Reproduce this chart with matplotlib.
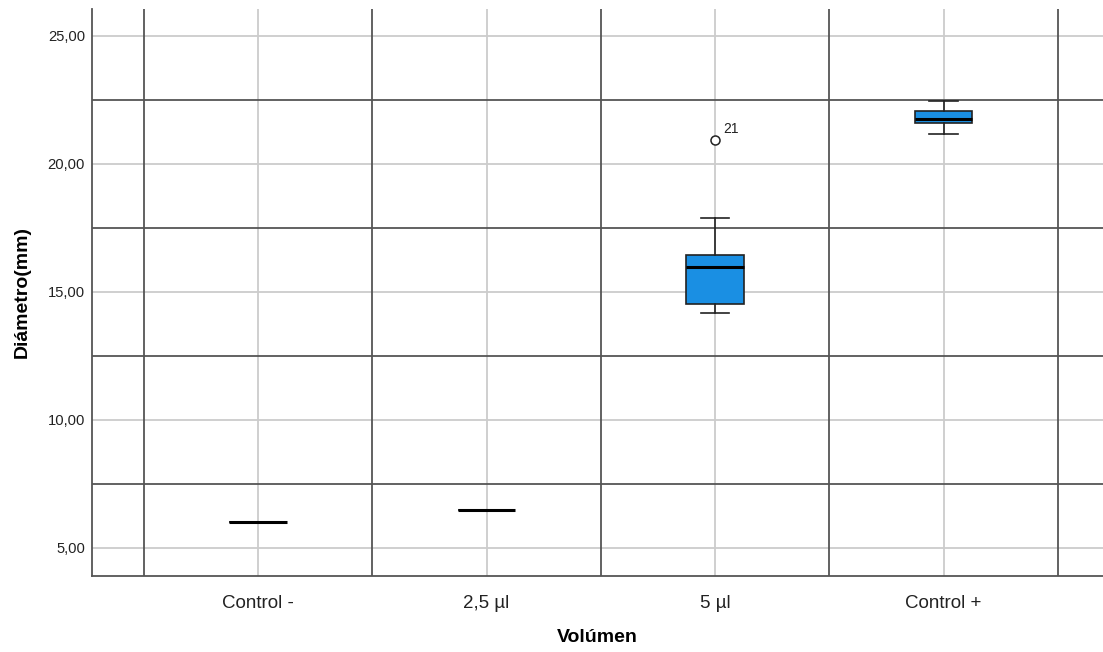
import matplotlib
matplotlib.use("Agg")
import matplotlib.pyplot as plt
import numpy as np

plt.rcParams["font.family"] = ["Liberation Sans", "DejaVu Sans"]

# data
categories = ["Control -", "2,5 µl", "5 µl", "Control +"]
whisker_low = [6.0, 6.5, 14.18, 21.16]
q1 = [6.0, 6.5, 14.53, 21.59]
medians = [6.0, 6.5, 15.99, 21.76]
q3 = [6.0, 6.5, 16.45, 22.07]
whisker_high = [6.0, 6.5, 17.89, 22.46]
outliers = [[], [], [20.94], []]
outlier_ids = [[], [], ["21"], []]

y_ticks = [5, 10, 15, 20, 25]
y_minor = [7.5, 12.5, 17.5, 22.5]

box_color = "#1a8fe3"

fig = plt.figure(figsize=(11.03, 6.52), dpi=100)
ax = fig.add_axes([92 / 1103, 76 / 652, 1 - 92 / 1103, 567 / 652])

pos = np.arange(len(categories))
stats = []
for i, name in enumerate(categories):
    stats.append({
        "label": name,
        "whislo": whisker_low[i],
        "q1": q1[i],
        "med": medians[i],
        "q3": q3[i],
        "whishi": whisker_high[i],
        "fliers": outliers[i],
    })

# grid: light lines at ticks and category centers, dark lines in between
for y in y_ticks:
    ax.axhline(y, color="#cccccc", lw=1.3, zorder=0)
for x in pos:
    ax.axvline(x, color="#cccccc", lw=1.3, zorder=0)
for y in y_minor:
    ax.axhline(y, color="#555555", lw=1.3, zorder=1)
for x in np.arange(len(categories) + 1) - 0.5:
    ax.axvline(x, color="#555555", lw=1.3, zorder=1)

ax.bxp(
    stats, positions=pos, widths=0.25, patch_artist=True,
    boxprops=dict(facecolor=box_color, edgecolor="#222222", lw=1.2),
    medianprops=dict(color="black", lw=2.2),
    whiskerprops=dict(color="#222222", lw=1.2),
    capprops=dict(color="#222222", lw=1.2),
    capwidths=0.125,
    flierprops=dict(marker="o", markerfacecolor="white", markeredgecolor="#222222",
                    markersize=6.5, markeredgewidth=1.1),
    zorder=3,
)

for i, (vals, ids) in enumerate(zip(outliers, outlier_ids)):
    for v, t in zip(vals, ids):
        ax.annotate(t, (pos[i], v), xytext=(6, 5), textcoords="offset points",
                    fontsize=10, color="#222222")

ax.set_xlim(-0.7265, 3.698)
ax.set_ylim(3.906, 26.05)
ax.set_yticks(y_ticks)
ax.set_yticklabels([f"{v:.2f}".replace(".", ",") for v in y_ticks], fontsize=10.6, color="#222222")
ax.set_xticks(pos)
ax.set_xticklabels(categories, fontsize=13.5, color="#222222")
ax.tick_params(axis="y", length=0, pad=5)
ax.tick_params(axis="x", length=0, pad=14)

for side in ["top", "right"]:
    ax.spines[side].set_visible(False)
for side in ["left", "bottom"]:
    ax.spines[side].set_color("#555555")
    ax.spines[side].set_linewidth(1.3)

ax.set_xlabel("Volúmen", fontsize=14, fontweight="bold", labelpad=12)
ax.set_ylabel("Diámetro(mm)", fontsize=14, fontweight="bold", labelpad=12)

fig.savefig("out.png", dpi=100, facecolor="white")
